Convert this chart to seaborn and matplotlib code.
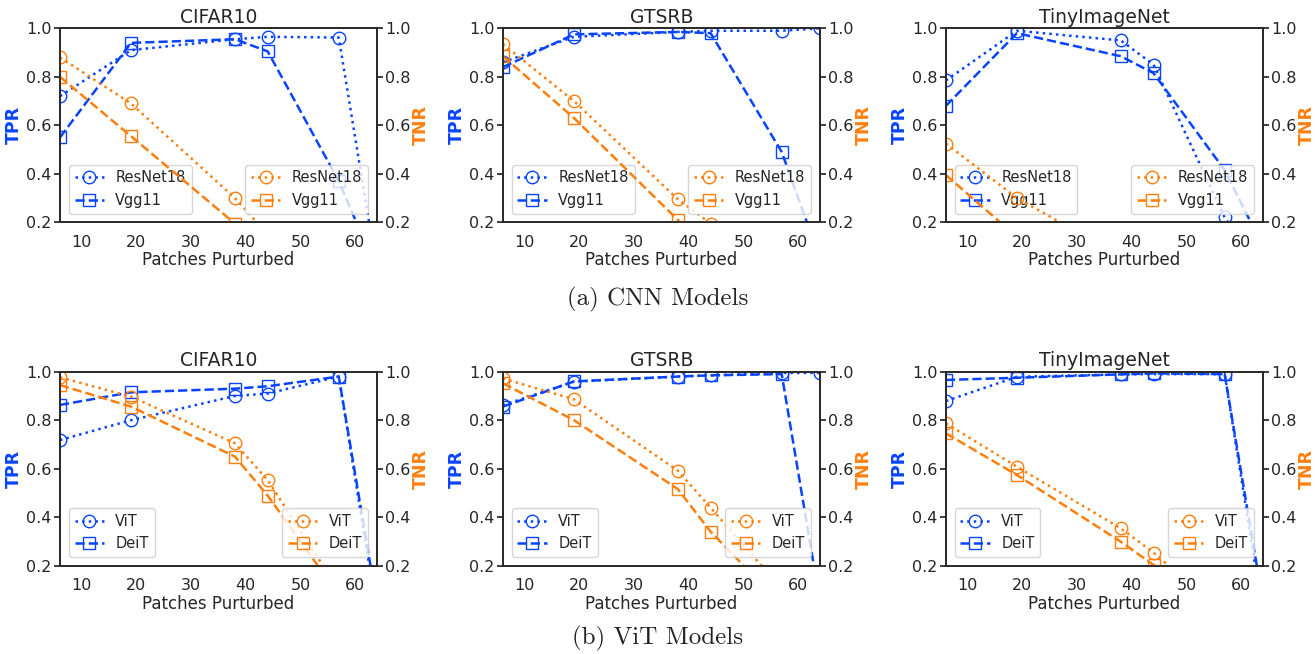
import matplotlib
matplotlib.use('Agg')
import matplotlib.pyplot as plt
import seaborn as sns

# x positions (number of patches perturbed)
patches = [6, 19, 38, 44, 57, 64]
datasets = ['CIFAR10', 'GTSRB', 'TinyImageNet']
cnn_models = ['ResNet18', 'Vgg11']
vit_models = ['ViT', 'DeiT']

# CNN models, TPR
cifar_resnet_tpr = [0.72, 0.91, 0.955, 0.965, 0.962, 0.0]
cifar_vgg_tpr = [0.55, 0.94, 0.955, 0.905, 0.37, 0.0]
gtsrb_resnet_tpr = [0.86, 0.965, 0.985, 0.99, 0.99, 1.0]
gtsrb_vgg_tpr = [0.84, 0.975, 0.985, 0.98, 0.49, 0.05]
tiny_resnet_tpr = [0.785, 0.99, 0.95, 0.85, 0.22, 0.0]
tiny_vgg_tpr = [0.68, 0.98, 0.885, 0.815, 0.415, 0.1]

# CNN models, TNR
cifar_resnet_tnr = [0.88, 0.69, 0.30, 0.15, 0.05, 0.0]
cifar_vgg_tnr = [0.80, 0.555, 0.195, 0.1, 0.02, 0.0]
gtsrb_resnet_tnr = [0.935, 0.70, 0.295, 0.195, 0.05, 0.0]
gtsrb_vgg_tnr = [0.885, 0.63, 0.21, 0.05, 0.0, 0.0]
tiny_resnet_tnr = [0.525, 0.30, 0.06, 0.02, 0.0, 0.0]
tiny_vgg_tnr = [0.395, 0.14, 0.02, 0.0, 0.0, 0.0]

# ViT models, TPR
cifar_vit_tpr = [0.718, 0.80, 0.90, 0.91, 0.98, 0.0]
cifar_deit_tpr = [0.863, 0.915, 0.93, 0.94, 0.98, 0.04]
gtsrb_vit_tpr = [0.862, 0.959, 0.98, 0.985, 0.995, 0.995]
gtsrb_deit_tpr = [0.856, 0.96, 0.98, 0.985, 0.99, 0.05]
tiny_vit_tpr = [0.879, 0.979, 0.989, 0.99, 0.99, 0.0]
tiny_deit_tpr = [0.966, 0.975, 0.989, 0.993, 0.99, 0.05]

# ViT models, TNR
cifar_vit_tnr = [0.977, 0.897, 0.705, 0.553, 0.10, 0.0]
cifar_deit_tnr = [0.945, 0.856, 0.65, 0.489, 0.08, 0.0]
gtsrb_vit_tnr = [0.972, 0.886, 0.592, 0.439, 0.105, 0.0]
gtsrb_deit_tnr = [0.952, 0.80, 0.516, 0.34, 0.04, 0.0]
tiny_vit_tnr = [0.787, 0.608, 0.354, 0.254, 0.0, 0.0]
tiny_deit_tnr = [0.746, 0.574, 0.299, 0.203, 0.0, 0.0]

cnn_tpr = [[cifar_resnet_tpr, cifar_vgg_tpr], [gtsrb_resnet_tpr, gtsrb_vgg_tpr], [tiny_resnet_tpr, tiny_vgg_tpr]]
cnn_tnr = [[cifar_resnet_tnr, cifar_vgg_tnr], [gtsrb_resnet_tnr, gtsrb_vgg_tnr], [tiny_resnet_tnr, tiny_vgg_tnr]]
vit_tpr = [[cifar_vit_tpr, cifar_deit_tpr], [gtsrb_vit_tpr, gtsrb_deit_tpr], [tiny_vit_tpr, tiny_deit_tpr]]
vit_tnr = [[cifar_vit_tnr, cifar_deit_tnr], [gtsrb_vit_tnr, gtsrb_deit_tnr], [tiny_vit_tnr, tiny_deit_tnr]]

BLUE = '#0844ff'
ORANGE = '#ff7f0e'
line_styles = [':', '--']
markers = ['o', 's']

sns.set_theme(style='white')
plt.rcParams['font.family'] = ['DejaVu Sans']


# one series on an axis
def draw_series(ax, vals, name, color, ls, mk):
    sns.lineplot(x=patches, y=vals, ax=ax, color=color, linestyle=ls, lw=1.8,
                 marker=mk, ms=9, fillstyle='none', mec=color, mew=1.0,
                 label=name)


# one dataset panel with TPR (left) and TNR (right)
def draw_panel(ax, title, models, tpr, tnr):
    ax2 = ax.twinx()
    for name, vals, ls, mk in zip(models, tpr, line_styles, markers):
        draw_series(ax, vals, name, BLUE, ls, mk)
    for name, vals, ls, mk in zip(models, tnr, line_styles, markers):
        draw_series(ax2, vals, name, ORANGE, ls, mk)

    for a in (ax, ax2):
        a.set_xlim(6, 64)
        a.set_ylim(0.2, 1.0)
        a.set_yticks([0.2, 0.4, 0.6, 0.8, 1.0])
    ax.set_xticks([10, 20, 30, 40, 50, 60])

    ax.tick_params(axis='y', left=True, length=4, labelsize=11.5, pad=2)
    ax.tick_params(axis='x', bottom=False, labelsize=11.5, pad=3)
    ax2.tick_params(axis='y', right=True, length=4, labelsize=11.5, pad=2)

    ax.set_title(title, fontsize=13.5, pad=4)
    ax.set_xlabel('Patches Purturbed', fontsize=12, labelpad=1)
    ax.set_ylabel('TPR', color=BLUE, fontweight='bold', fontsize=12.5, labelpad=2)
    ax2.set_ylabel('TNR', color=ORANGE, fontweight='bold', fontsize=12.5, labelpad=1)

    ax.legend(loc='lower left', fontsize=10.5, borderaxespad=0.6)
    ax2.legend(loc='lower right', fontsize=10.5, borderaxespad=0.6)

    for a in (ax, ax2):
        for sp in a.spines.values():
            sp.set_color('#262626')
            sp.set_linewidth(1.2)


fig, axes = plt.subplots(2, 3, figsize=(13.15, 6.54), dpi=100)
fig.subplots_adjust(left=0.0456, right=0.9604, top=0.9567, bottom=0.135,
                    wspace=0.397, hspace=0.77)

for i, name in enumerate(datasets):
    draw_panel(axes[0, i], name, cnn_models, cnn_tpr[i], cnn_tnr[i])
    draw_panel(axes[1, i], name, vit_models, vit_tpr[i], vit_tnr[i])

fig.text(0.5, 0.542, '(a) CNN Models', ha='center', va='center',
         family='cmr10', fontsize=18, color='#222222')
fig.text(0.5, 0.024, '(b) ViT Models', ha='center', va='center',
         family='cmr10', fontsize=18, color='#222222')

plt.savefig('out.png', dpi=100)
